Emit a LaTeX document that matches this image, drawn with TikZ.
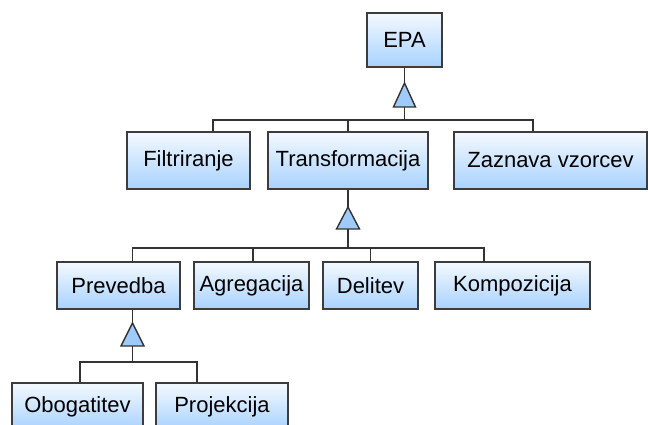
\documentclass[tikz,border=0pt]{standalone}
\usepackage{fontspec}
\setmainfont{Liberation Sans}
\definecolor{boxline}{HTML}{3C3C3C}
\definecolor{linec}{HTML}{333333}
\definecolor{boxtop}{HTML}{F4F9FF}
\definecolor{boxbot}{HTML}{A8D2FF}
\definecolor{trifill}{HTML}{9ECBFA}
\begin{document}
\begin{tikzpicture}[x=1pt,y=-1pt,
  box/.style={draw=boxline, line width=1.4pt, top color=boxtop, bottom color=boxbot,
    inner sep=0pt, font=\fontsize{22}{26}\selectfont, text=black},
  conn/.style={draw=linec, line width=1.4pt},
  tri/.style={draw=linec, line width=1.4pt, fill=trifill, line join=miter}]
\useasboundingbox (0,0) rectangle (648,424);
\clip (0,0) rectangle (648,424);

% class boxes
\node[box, minimum width=75pt,  minimum height=54pt] (epa)   at (404.5,40)    {EPA};
\node[box, minimum width=123pt, minimum height=57pt] (filt)  at (188.5,160.5) {Filtriranje};
\node[box, minimum width=160pt, minimum height=57pt] (trans) at (348,160.5)   {Transformacija};
\node[box, minimum width=193pt, minimum height=57pt] (zaz)   at (550.5,160.5) {Zaznava vzorcev};
\node[box, minimum width=123pt, minimum height=47pt] (prev)  at (118.5,285.5) {Prevedba};
\node[box, minimum width=115pt, minimum height=47pt] (agr)   at (251.5,285.5) {Agregacija};
\node[box, minimum width=95pt,  minimum height=47pt] (del)   at (370.5,285.5) {Delitev};
\node[box, minimum width=155pt, minimum height=47pt] (komp)  at (512.5,285.5) {Kompozicija};
\node[box, minimum width=131pt, minimum height=47pt] (obog)  at (77.5,406.5)  {Obogatitev};
\node[box, minimum width=132pt, minimum height=47pt] (proj)  at (222,406.5)   {Projekcija};

% generalization triangles: apex, base centre and bar junction
\coordinate (t1a) at (404.5,83);  \coordinate (t1b) at (404.5,107); \coordinate (b1) at (404.5,120);
\coordinate (t2a) at (348,207);   \coordinate (t2b) at (348,229);   \coordinate (b2) at (348,248);
\coordinate (t3a) at (132.5,323); \coordinate (t3b) at (132.5,346); \coordinate (b3) at (132.5,362);

% EPA hierarchy
\draw[conn] (epa.south) -- (t1a);
\draw[conn] (t1b) -- (b1);
\draw[conn] ([xshift=24.5pt]filt.north) |- (b1) -| ([xshift=-17.5pt]zaz.north);
\draw[conn] (trans.north) -- (trans.north |- b1);
\draw[tri] (t1a) -- ([xshift=-11pt]t1b) -- ([xshift=11pt]t1b) -- cycle;

% Transformacija hierarchy
\draw[conn] (trans.south) -- (t2a);
\draw[conn] (t2b) -- (b2);
\draw[conn] ([xshift=14pt]prev.north) |- (b2) -| ([xshift=-28.5pt]komp.north);
\draw[conn] ([xshift=1.5pt]agr.north) -- ([xshift=1.5pt]agr.north |- b2);
\draw[conn] (del.north) -- (del.north |- b2);
\draw[tri] (t2a) -- ([xshift=-11.5pt]t2b) -- ([xshift=11.5pt]t2b) -- cycle;

% Prevedba hierarchy
\draw[conn] ([xshift=14pt]prev.south) -- (t3a);
\draw[conn] (t3b) -- (b3);
\draw[conn] ([xshift=2.5pt]obog.north) |- (b3) -| ([xshift=-25pt]proj.north);
\draw[tri] (t3a) -- ([xshift=-11.5pt]t3b) -- ([xshift=11.5pt]t3b) -- cycle;
\end{tikzpicture}
\end{document}
